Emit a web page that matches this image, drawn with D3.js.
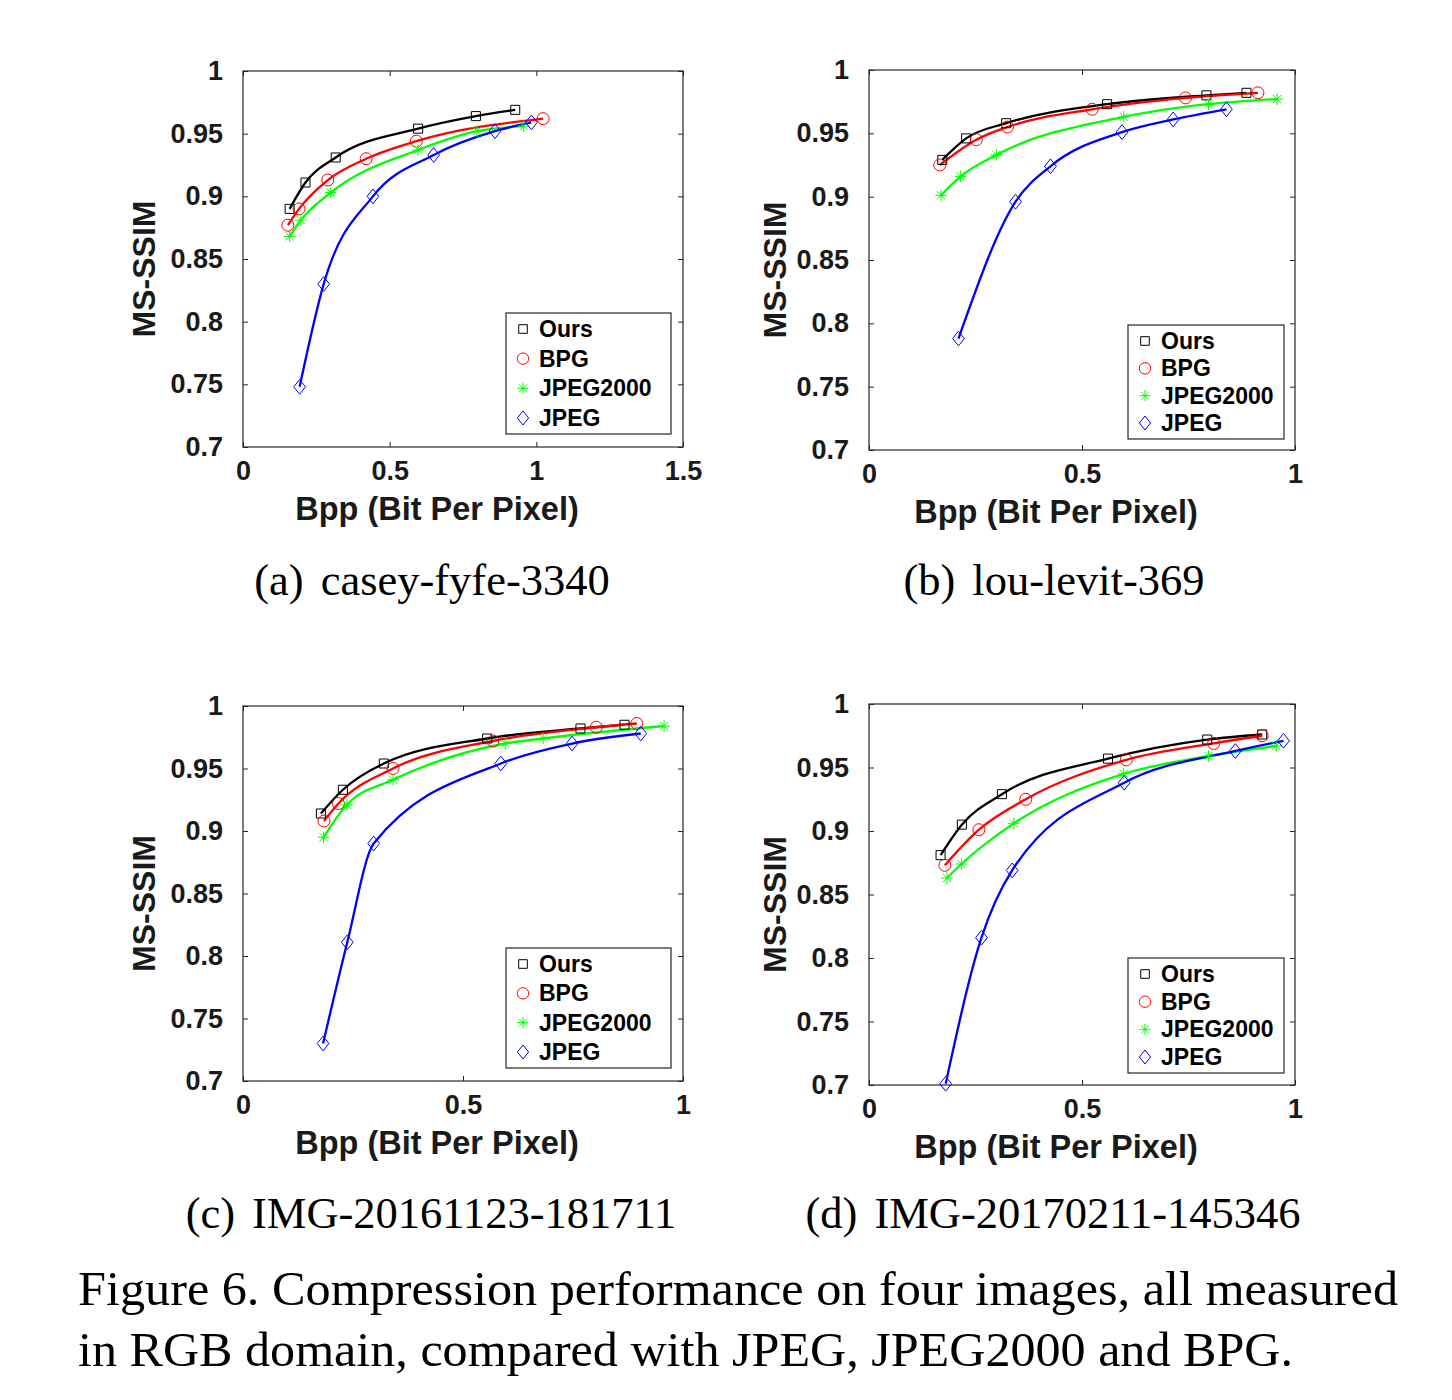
<!DOCTYPE html>
<html><head><meta charset="utf-8">
<script src="https://cdn.jsdelivr.net/npm/d3@7"></script>
<style>
html,body{margin:0;padding:0;background:#fff;}
svg{display:block;}
</style></head>
<body>
<script>
// ---------------- DATA ----------------
const seriesNames = ["Ours", "BPG", "JPEG2000", "JPEG"];
const yTickValues = [0.7, 0.75, 0.8, 0.85, 0.9, 0.95, 1];
const yTickLabels = ["0.7", "0.75", "0.8", "0.85", "0.9", "0.95", "1"];
const xTicksA = [0, 0.5, 1, 1.5];
const xTickLabelsA = ["0", "0.5", "1", "1.5"];
const xTicksB = [0, 0.5, 1];
const xTickLabelsB = ["0", "0.5", "1"];
const subLetters = ["(a)", "(b)", "(c)", "(d)"];
const subNames = ["casey-fyfe-3340", "lou-levit-369", "IMG-20161123-181711", "IMG-20170211-145346"];
const xLabel = "Bpp (Bit Per Pixel)";
const yLabel = "MS-SSIM";
const captionLines = [
  "Figure 6. Compression performance on four images, all measured",
  "in RGB domain, compared with JPEG, JPEG2000 and BPG."
];

// [bpp, ms-ssim]
const oursA = [[0.159,0.890],[0.213,0.911],[0.316,0.931],[0.597,0.954],[0.794,0.964],[0.928,0.969]];
const bpgA  = [[0.153,0.877],[0.191,0.890],[0.289,0.913],[0.420,0.930],[0.591,0.944],[1.023,0.962]];
const j2kA  = [[0.159,0.868],[0.197,0.881],[0.299,0.903],[0.597,0.937],[0.798,0.952],[0.957,0.956]];
const jpegA = [[0.193,0.748],[0.275,0.830],[0.443,0.900],[0.650,0.933],[0.859,0.952],[0.983,0.959]];

const oursB = [[0.172,0.929],[0.228,0.946],[0.322,0.958],[0.559,0.973],[0.792,0.980],[0.886,0.982]];
const bpgB  = [[0.166,0.925],[0.252,0.945],[0.325,0.955],[0.524,0.969],[0.743,0.978],[0.913,0.982]];
const j2kB  = [[0.169,0.901],[0.215,0.916],[0.299,0.933],[0.598,0.963],[0.797,0.973],[0.958,0.977]];
const jpegB = [[0.210,0.788],[0.344,0.896],[0.426,0.924],[0.594,0.951],[0.714,0.961],[0.839,0.969]];

const oursC = [[0.177,0.914],[0.227,0.933],[0.320,0.954],[0.555,0.974],[0.767,0.982],[0.867,0.985]];
const bpgC  = [[0.184,0.908],[0.217,0.922],[0.341,0.950],[0.568,0.972],[0.803,0.983],[0.895,0.986]];
const j2kC  = [[0.183,0.895],[0.236,0.921],[0.341,0.941],[0.596,0.970],[0.682,0.974],[0.957,0.984]];
const jpegC = [[0.182,0.730],[0.237,0.811],[0.297,0.890],[0.586,0.954],[0.748,0.970],[0.904,0.978]];

const oursD = [[0.168,0.881],[0.218,0.905],[0.312,0.929],[0.561,0.957],[0.794,0.972],[0.923,0.976]];
const bpgD  = [[0.178,0.873],[0.258,0.901],[0.368,0.925],[0.604,0.956],[0.809,0.969],[0.923,0.975]];
const j2kD  = [[0.183,0.863],[0.217,0.874],[0.340,0.906],[0.598,0.945],[0.797,0.959],[0.956,0.967]];
const jpegD = [[0.180,0.701],[0.264,0.816],[0.336,0.869],[0.599,0.938],[0.860,0.963],[0.973,0.971]];

const panelData = [
  [oursA, bpgA, j2kA, jpegA],
  [oursB, bpgB, j2kB, jpegB],
  [oursC, bpgC, j2kC, jpegC],
  [oursD, bpgD, j2kD, jpegD]
];
const panelXMax = [1.5, 1, 1, 1];
const panelXTicks = [xTicksA, xTicksB, xTicksB, xTicksB];
const panelXTickLabels = [xTickLabelsA, xTickLabelsB, xTickLabelsB, xTickLabelsB];

// ---------------- LAYOUT / STYLE ----------------
const W = 1452, H = 1400;
const layout = [
  {l:243, t:71,  r:683,  b:447,  lg:{x:506, y:313, w:165, h:121}, cap:{x:432, y:595, w:355}},
  {l:869, t:70,  r:1295, b:450,  lg:{x:1128, y:325, w:156, h:114}, cap:{x:1054, y:595, w:302}},
  {l:243, t:706, r:683,  b:1081, lg:{x:506, y:948, w:165, h:120}, cap:{x:431, y:1228, w:493}},
  {l:869, t:704, r:1295, b:1085, lg:{x:1128, y:958, w:156, h:115}, cap:{x:1053, y:1228, w:497}}
];
const colors = ["#000000", "#ff0000", "#00ff00", "#0000ff"];
const axisColor = "#262626";
const sansBold = "'Liberation Sans', Arial, sans-serif";
const serif = "'Liberation Serif', 'Times New Roman', serif";

const svg = d3.select("body").append("svg").attr("width", W).attr("height", H);
svg.append("rect").attr("width", W).attr("height", H).attr("fill", "#fff");

function markerPath(kind, cx, cy, big) {
  const f = big ? 1.05 : 1;
  if (kind === 0) { const s = 4.3 * f; return `M${cx-s},${cy-s}H${cx+s}V${cy+s}H${cx-s}Z`; }
  if (kind === 1) { const r = 5.7 * f; return `M${cx-r},${cy}A${r},${r} 0 1,0 ${cx+r},${cy}A${r},${r} 0 1,0 ${cx-r},${cy}Z`; }
  if (kind === 2) { const s = 5.5 * f, d = 3.9 * f;
    return `M${cx-s},${cy}H${cx+s}M${cx},${cy-s}V${cy+s}M${cx-d},${cy-d}L${cx+d},${cy+d}M${cx-d},${cy+d}L${cx+d},${cy-d}`; }
  const w = 5.6 * f, h = 7 * f;
  return `M${cx},${cy-h}L${cx+w},${cy}L${cx},${cy+h}L${cx-w},${cy}Z`;
}

layout.forEach((L, p) => {
  const g = svg.append("g");
  const x = d3.scaleLinear().domain([0, panelXMax[p]]).range([L.l, L.r]);
  const y = d3.scaleLinear().domain([0.7, 1]).range([L.b, L.t]);
  const xt = panelXTicks[p], xl = panelXTickLabels[p];

  // axes
  const ax = g.append("g").attr("transform", `translate(0,${L.b})`)
    .call(d3.axisBottom(x).tickValues(xt).tickFormat((d,i)=>xl[i]).tickSize(-5).tickPadding(14));
  const ay = g.append("g").attr("transform", `translate(${L.l},0)`)
    .call(d3.axisLeft(y).tickValues(yTickValues).tickFormat((d,i)=>yTickLabels[i]).tickSize(-5).tickPadding(20));
  const at = g.append("g").attr("transform", `translate(0,${L.t})`)
    .call(d3.axisTop(x).tickValues(xt).tickFormat("").tickSize(-5));
  const ar = g.append("g").attr("transform", `translate(${L.r},0)`)
    .call(d3.axisRight(y).tickValues(yTickValues).tickFormat("").tickSize(-5));
  [ax, ay, at, ar].forEach(a => {
    a.select(".domain").remove();
    a.selectAll("line").attr("stroke", axisColor).attr("stroke-width", 1);
    a.selectAll("text").attr("fill", "#1a1a1a").style("font-family", sansBold)
      .style("font-weight", "bold").style("font-size", "27px");
  });
  g.append("rect").attr("x", L.l).attr("y", L.t).attr("width", L.r - L.l).attr("height", L.b - L.t)
    .attr("fill", "none").attr("stroke", axisColor).attr("stroke-width", 1.2);

  // axis titles
  g.append("text").attr("x", (L.l + L.r)/2 - 26).attr("y", L.b + 62)
    .attr("text-anchor", "middle").attr("dominant-baseline", "central")
    .style("font-family", sansBold).style("font-weight", "bold").style("font-size", "32.5px")
    .attr("fill", "#1a1a1a").text(xLabel);
  const yx = p % 2 === 0 ? L.l - 99 : L.l - 94;
  const yy = (L.t + L.b)/2 + 10;
  g.append("text").attr("transform", `translate(${yx},${yy}) rotate(-90)`)
    .attr("text-anchor", "middle").attr("dominant-baseline", "central")
    .style("font-family", sansBold).style("font-weight", "bold").style("font-size", "32px")
    .attr("fill", "#1a1a1a").text(yLabel);

  // curves
  const line = d3.line().x(d => x(d[0])).y(d => y(d[1])).curve(d3.curveMonotoneX);
  const series = panelData[p];
  series.forEach((s, k) => {
    g.append("path").attr("d", line(s)).attr("fill", "none")
      .attr("stroke", colors[k]).attr("stroke-width", 2.3).attr("stroke-linejoin", "round");
  });
  series.forEach((s, k) => {
    g.append("g").selectAll("path").data(s).join("path")
      .attr("d", d => markerPath(k, x(d[0]), y(d[1]), true))
      .attr("fill", "none").attr("stroke", colors[k]).attr("stroke-width", 1);
  });

  // legend
  const lg = L.lg;
  g.append("rect").attr("x", lg.x).attr("y", lg.y).attr("width", lg.w).attr("height", lg.h)
    .attr("fill", "#fff").attr("stroke", axisColor).attr("stroke-width", 1.2);
  const rowH = (lg.h - 32) / 3;
  seriesNames.forEach((n, k) => {
    const cy = lg.y + 16 + rowH * k;
    g.append("path").attr("d", markerPath(k, lg.x + 17, cy, false)).attr("fill", "none")
      .attr("stroke", colors[k]).attr("stroke-width", 1);
    g.append("text").attr("x", lg.x + 33).attr("y", cy).attr("dominant-baseline", "central")
      .style("font-family", sansBold).style("font-weight", "bold").style("font-size", "23px")
      .attr("fill", "#000").text(n);
  });

  // sub-caption
  const t = svg.append("text").attr("x", L.cap.x).attr("y", L.cap.y).attr("text-anchor", "middle")
    .style("font-family", serif).style("font-size", "44.5px").attr("fill", "#000");
  t.append("tspan").text(subLetters[p]);
  t.append("tspan").attr("dx", 17).text(subNames[p]);
});

// figure caption
svg.append("text").attr("x", 78).attr("y", 1305).style("font-family", serif).style("font-size", "48px")
  .attr("fill", "#000").attr("textLength", 1320).attr("lengthAdjust", "spacingAndGlyphs").text(captionLines[0]);
svg.append("text").attr("x", 78).attr("y", 1366).style("font-family", serif).style("font-size", "48px")
  .attr("fill", "#000").attr("textLength", 1215).attr("lengthAdjust", "spacingAndGlyphs").text(captionLines[1]);
</script>
</body></html>
